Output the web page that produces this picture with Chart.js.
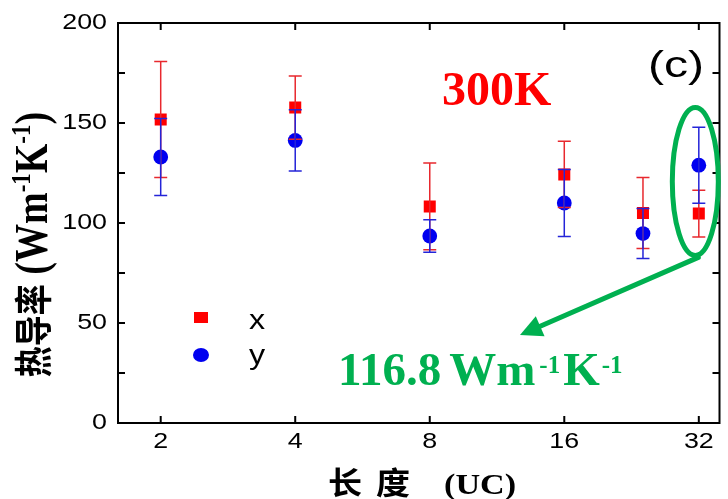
<!DOCTYPE html>
<html>
<head>
<meta charset="utf-8">
<script src="https://cdn.jsdelivr.net/npm/chart.js@4.4.1/dist/chart.umd.min.js"></script>
<style>
  html, body { margin: 0; padding: 0; background: #fff; }
  #wrap { width: 728px; height: 499px; }
</style>
</head>
<body>
<div id="wrap"><canvas id="kappaChart" width="728" height="499"></canvas></div>
<script>
// longueurs (UC) et conductivité thermique à 300K
const lengths = [2, 4, 8, 16, 24, 32];
const kappaX = [151.7, 157.7, 108.3, 124.3, 105.0, 104.7];
const errX   = [29.0, 15.8, 21.7, 16.6, 17.7, 11.7];
const kappaY = [133.0, 141.3, 93.5, 110.0, 94.7, 128.9];
const errY   = [19.2, 15.3, 8.1, 16.7, 12.5, 19.0];

const xTicks = [2, 4, 8, 16, 32];
const yTicks = [0, 25, 50, 75, 100, 125, 150, 175, 200];
const yLabels = [0, 50, 100, 150, 200];

const RED = '#ff0000';
const BLUE = '#0000f0';
const GREEN = '#00b050';
const SANS = '"Liberation Sans", Arial, sans-serif';
const SERIF = '"Liberation Serif", "Times New Roman", serif';
const CJK = '"Noto Sans CJK SC", sans-serif';
const STRETCH = 1.22;

function toPoints(vals) {
    return lengths.map((l, i) => ({ x: l, y: vals[i] }));
}

// texte étiré horizontalement comme dans la figure d'origine
function stretchedText(ctx, text, x, y, font, align, baseline, sx) {
    ctx.save();
    ctx.translate(x, y);
    ctx.scale(sx || STRETCH, 1);
    ctx.font = font;
    ctx.textAlign = align;
    ctx.textBaseline = baseline;
    ctx.fillText(text, 0, 0);
    ctx.restore();
}

// suite de morceaux de texte (exposants compris) sur une même ligne
function runsWidth(ctx, runs) {
    let w = 0;
    runs.forEach(r => { ctx.font = r.font; w += ctx.measureText(r.text).width + (r.gap || 0); });
    return w;
}
function drawRuns(ctx, runs, x, y) {
    ctx.textAlign = 'left';
    ctx.textBaseline = 'alphabetic';
    runs.forEach(r => {
        x += r.gap || 0;
        ctx.font = r.font;
        ctx.fillText(r.text, x, y - (r.rise || 0));
        x += ctx.measureText(r.text).width;
    });
}

// ==========================================
// barres d'erreur
// ==========================================
const errorBars = {
    id: 'errorBars',
    afterDatasetsDraw(chart) {
        const ctx = chart.ctx;
        const xs = chart.scales.x, ys = chart.scales.y;
        chart.data.datasets.forEach(ds => {
            ctx.save();
            ctx.strokeStyle = ds.errColor;
            ctx.lineWidth = 1.5;
            ds.data.forEach((p, i) => {
                const px = xs.getPixelForValue(p.x);
                const top = ys.getPixelForValue(p.y + ds.err[i]);
                const bot = ys.getPixelForValue(p.y - ds.err[i]);
                ctx.beginPath();
                ctx.moveTo(px, top); ctx.lineTo(px, bot);
                ctx.moveTo(px - 6.5, top); ctx.lineTo(px + 6.5, top);
                ctx.moveTo(px - 6.5, bot); ctx.lineTo(px + 6.5, bot);
                ctx.stroke();
            });
            ctx.restore();
        });
    }
};

// ==========================================
// cadre, graduations, étiquettes et titres
// ==========================================
const frame = {
    id: 'frame',
    afterDraw(chart) {
        const ctx = chart.ctx;
        const a = chart.chartArea;
        const xs = chart.scales.x, ys = chart.scales.y;
        const tick = 7;

        ctx.save();
        ctx.strokeStyle = '#000';
        ctx.lineWidth = 2;
        ctx.strokeRect(a.left, a.top, a.right - a.left, a.bottom - a.top);

        ctx.beginPath();
        xTicks.forEach(v => {
            const px = xs.getPixelForValue(v);
            ctx.moveTo(px, a.bottom); ctx.lineTo(px, a.bottom - tick);
            ctx.moveTo(px, a.top); ctx.lineTo(px, a.top + tick);
        });
        yTicks.forEach(v => {
            const py = ys.getPixelForValue(v);
            ctx.moveTo(a.left, py); ctx.lineTo(a.left + tick, py);
            ctx.moveTo(a.right, py); ctx.lineTo(a.right - tick, py);
        });
        ctx.stroke();

        ctx.fillStyle = '#000';
        const tickFont = '22px ' + SANS;
        yLabels.forEach(v => {
            stretchedText(ctx, String(v), a.left - 11, ys.getPixelForValue(v), tickFont, 'right', 'middle');
        });
        xTicks.forEach(v => {
            stretchedText(ctx, String(v), xs.getPixelForValue(v), a.bottom + 19, tickFont, 'center', 'middle');
        });

        // titre de l'axe x : 长 度 (UC)
        const cjkFont = 'bold 31px ' + CJK;
        stretchedText(ctx, '长', 328, 494, cjkFont, 'left', 'alphabetic', 1.1);
        stretchedText(ctx, '度', 376, 494, cjkFont, 'left', 'alphabetic', 1.1);
        stretchedText(ctx, '(UC)', 444, 494, 'bold 30px ' + SERIF, 'left', 'alphabetic', 1.14);

        // titre de l'axe y : 热导率 (Wm-1K-1)
        const yRuns = [
            { text: '热导率', font: 'bold 31px ' + CJK },
            { text: ' (Wm', font: 'bold 38px ' + SERIF },
            { text: '-1', font: 'bold 23px ' + SERIF, rise: 14 },
            { text: 'K', font: 'bold 38px ' + SERIF },
            { text: '-1', font: 'bold 23px ' + SERIF, rise: 14 },
            { text: ')', font: 'bold 38px ' + SERIF }
        ];
        ctx.save();
        const yw = runsWidth(ctx, yRuns);
        ctx.translate(47, 244.5);
        ctx.rotate(-Math.PI / 2);
        ctx.scale(1, STRETCH);
        drawRuns(ctx, yRuns, -yw / 2, 0);
        ctx.restore();

        ctx.restore();
    }
};

// ==========================================
// légende et annotations
// ==========================================
const notes = {
    id: 'notes',
    afterDraw(chart) {
        const ctx = chart.ctx;
        const xs = chart.scales.x, ys = chart.scales.y;
        const dsX = chart.data.datasets[0], dsY = chart.data.datasets[1];

        ctx.save();
        // légende
        ctx.fillStyle = dsX.backgroundColor;
        ctx.fillRect(194, 312, 14, 11);
        ctx.fillStyle = dsY.backgroundColor;
        ctx.beginPath();
        ctx.ellipse(201, 355, 8, 7, 0, 0, Math.PI * 2);
        ctx.fill();
        ctx.fillStyle = '#000';
        stretchedText(ctx, dsX.label, 249, 329, '28px ' + SANS, 'left', 'alphabetic', 1.15);
        stretchedText(ctx, dsY.label, 249, 364, '28px ' + SANS, 'left', 'alphabetic', 1.15);

        // (c)
        stretchedText(ctx, '(c)', 648, 77, '37px ' + SANS, 'left', 'alphabetic', 1.3);

        // 300K
        ctx.fillStyle = RED;
        ctx.font = 'bold 48px ' + SERIF;
        ctx.textAlign = 'left';
        ctx.textBaseline = 'alphabetic';
        ctx.fillText('300K', 442, 105);

        // ellipse autour du point à 32 UC
        const last = lengths.length - 1;
        const meanLast = (kappaX[last] + kappaY[last]) / 2;
        const cx = xs.getPixelForValue(lengths[last]) - 3.5;
        const cy = ys.getPixelForValue(meanLast) - 8;
        ctx.strokeStyle = GREEN;
        ctx.fillStyle = GREEN;
        ctx.lineWidth = 5;
        ctx.beginPath();
        ctx.ellipse(cx, cy, 23, 74, 0, 0, Math.PI * 2);
        ctx.stroke();

        // flèche vers la valeur moyenne
        const sx = cx + 3, sy = cy + 76;
        const tx = 520, ty = 335;
        const ang = Math.atan2(ty - sy, tx - sx);
        const head = 22, half = 11;
        const bx = tx - head * Math.cos(ang), by = ty - head * Math.sin(ang);
        ctx.lineCap = 'round';
        ctx.beginPath();
        ctx.moveTo(sx, sy);
        ctx.lineTo(bx, by);
        ctx.stroke();
        ctx.beginPath();
        ctx.moveTo(tx, ty);
        ctx.lineTo(bx + half * Math.sin(ang), by - half * Math.cos(ang));
        ctx.lineTo(bx - half * Math.sin(ang), by + half * Math.cos(ang));
        ctx.closePath();
        ctx.fill();

        // 116.8 Wm-1K-1
        const vRuns = [
            { text: meanLast.toFixed(1), font: 'bold 47px ' + SERIF },
            { text: 'Wm', font: 'bold 47px ' + SERIF, gap: 8 },
            { text: '-1', font: 'bold 25px ' + SERIF, rise: 12, gap: 4 },
            { text: 'K', font: 'bold 47px ' + SERIF, gap: 3 },
            { text: '-1', font: 'bold 25px ' + SERIF, rise: 12, gap: 2 }
        ];
        drawRuns(ctx, vRuns, 338, 385);
        ctx.restore();
    }
};

const ctx = document.getElementById('kappaChart');
new Chart(ctx, {
    type: 'scatter',
    data: {
        datasets: [{
            label: 'x',
            data: toPoints(kappaX),
            err: errX,
            errColor: '#e8282e',
            pointStyle: 'rect',
            pointRadius: 8.5,
            pointHoverRadius: 8.5,
            backgroundColor: RED,
            borderWidth: 0
        }, {
            label: 'y',
            data: toPoints(kappaY),
            err: errY,
            errColor: '#2424d8',
            pointStyle: 'circle',
            pointRadius: 7.4,
            pointHoverRadius: 7.4,
            backgroundColor: BLUE,
            borderWidth: 0
        }]
    },
    options: {
        responsive: false,
        animation: false,
        events: [],
        layout: { padding: { left: 118, right: 4, top: 23, bottom: 76 } },
        plugins: { legend: { display: false }, tooltip: { enabled: false } },
        scales: {
            x: { type: 'logarithmic', min: 1.605, max: 35.6, display: false },
            y: { type: 'linear', min: 0, max: 200, display: false }
        }
    },
    plugins: [errorBars, frame, notes]
});
</script>
</body>
</html>
